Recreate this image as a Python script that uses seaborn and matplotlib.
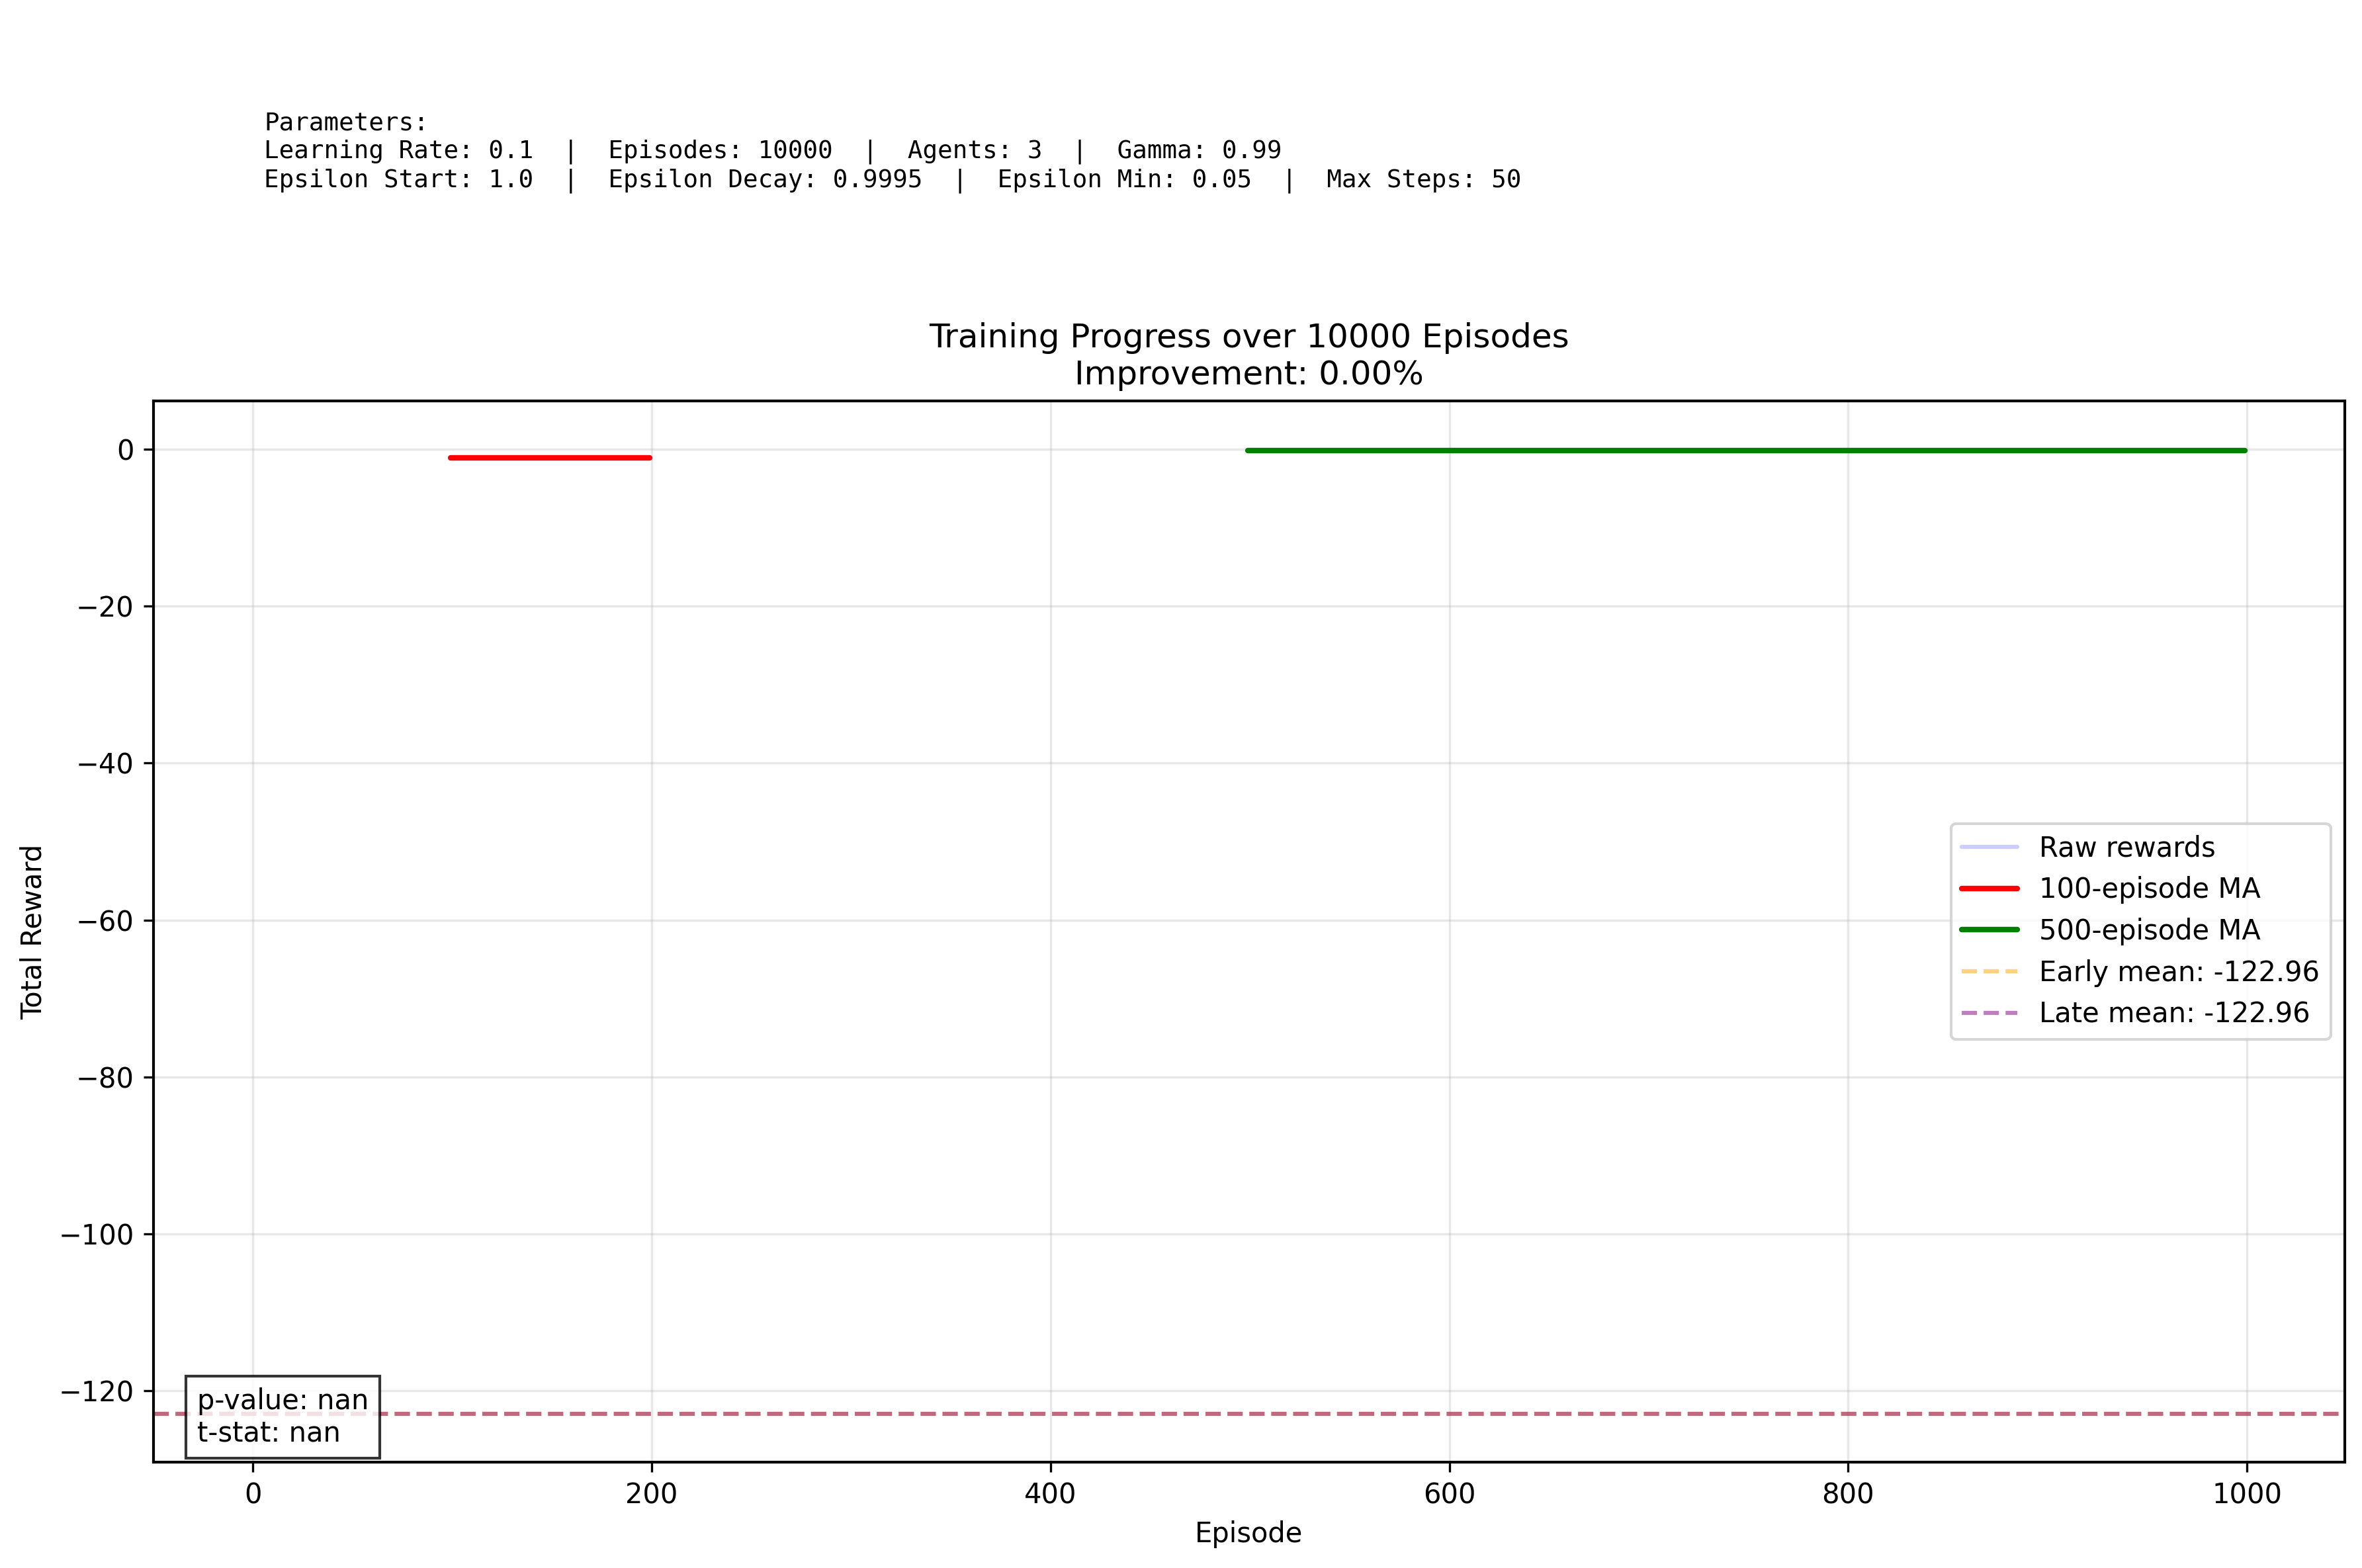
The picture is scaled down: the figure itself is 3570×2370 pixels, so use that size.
import pandas as pd
import matplotlib
matplotlib.use("Agg")
import matplotlib.pyplot as plt
import seaborn as sns

# === DATA ===
ma100_episode = [99, 199]
ma100_reward = [-1.1, -1.1]
ma500_episode = [499, 999]
ma500_reward = [-0.15, -0.15]
early_mean = -122.96
late_mean = -122.96
p_value = "nan"
t_stat = "nan"
improvement = 0.00

params_text = ("Parameters:\n"
               "Learning Rate: 0.1  |  Episodes: 10000  |  Agents: 3  |  Gamma: 0.99\n"
               "Epsilon Start: 1.0  |  Epsilon Decay: 0.9995  |  Epsilon Min: 0.05  |  Max Steps: 50")

df100 = pd.DataFrame({"Episode": ma100_episode, "Reward": ma100_reward})
df500 = pd.DataFrame({"Episode": ma500_episode, "Reward": ma500_reward})

# === PLOT ===
sns.set_style("ticks", {"axes.edgecolor": "black", "text.color": "black",
                        "xtick.color": "black", "ytick.color": "black",
                        "axes.labelcolor": "black", "grid.color": "#b0b0b0"})
plt.rcParams['font.family'] = ['DejaVu Sans']
fig = plt.figure(figsize=(11.9, 7.9), dpi=300)
ax = fig.add_axes([0.0649, 0.0675, 0.9926 - 0.0649, 0.7443 - 0.0675])

ax.plot([], [], color='blue', alpha=0.2, linewidth=1.5, label='Raw rewards')
sns.lineplot(data=df100, x="Episode", y="Reward", color='red', linewidth=2, label='100-episode MA', ax=ax)
sns.lineplot(data=df500, x="Episode", y="Reward", color='green', linewidth=2, label='500-episode MA', ax=ax)
ax.axhline(early_mean, color='orange', linestyle='--', alpha=0.5, linewidth=1.5,
           label=f'Early mean: {early_mean:.2f}')
ax.axhline(late_mean, color='purple', linestyle='--', alpha=0.5, linewidth=1.5,
           label=f'Late mean: {late_mean:.2f}')

ax.set_xlim(-49.95, 1048.95)
ax.set_ylim(-129.1, 6.15)
ax.grid(True, alpha=0.3)
for s in ax.spines.values():
    s.set_color('black')
    s.set_linewidth(1.0)
ax.tick_params(colors='black', labelsize=10, length=3.5, width=0.8)

ax.set_xlabel('Episode', fontsize=10)
ax.set_ylabel('Total Reward', fontsize=10)
ax.set_title(f'Training Progress over 10000 Episodes\nImprovement: {improvement:.2f}%', fontsize=12)
ax.legend(loc='center right', fontsize=10)

ax.text(0.02, 0.014, f'p-value: {p_value}\nt-stat: {t_stat}', transform=ax.transAxes,
        fontsize=10, va='bottom', ha='left',
        bbox=dict(facecolor='white', edgecolor='black', alpha=0.8))

fig.text(0.1118, 0.929, params_text, fontsize=9, family='DejaVu Sans Mono',
         va='top', ha='left', linespacing=1.23)

plt.savefig('out.png', dpi=300)
